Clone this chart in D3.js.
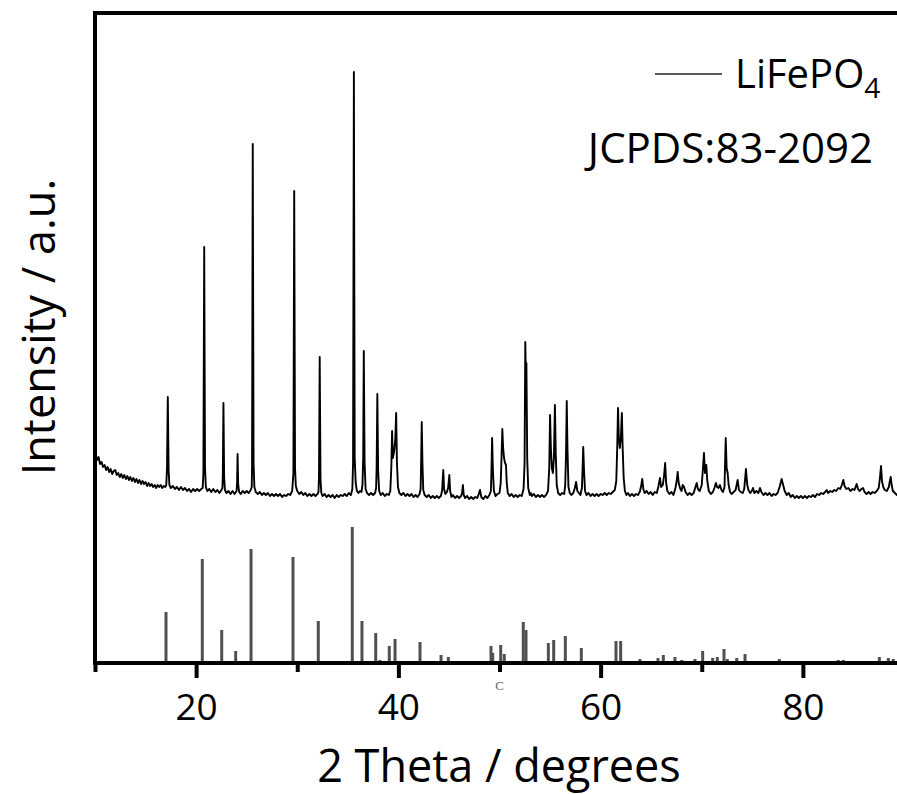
<!DOCTYPE html>
<html><head><meta charset="utf-8">
<script src="https://cdn.jsdelivr.net/npm/d3@7"></script>
<style>body{margin:0;background:#fff} svg{display:block}</style>
</head><body>
<svg id="c" width="897" height="794"></svg>
<script>
// ---- data ----
const xMajorTicks = [20, 40, 60, 80];
const xMinorTicks = [10, 30, 50, 70, 90];
const xLabel = "2 Theta / degrees";
const yLabel = "Intensity / a.u.";
const seriesName = "LiFePO";
const seriesSub = "4";
const refName = "JCPDS:83-2092";

// measured XRD pattern [2theta, intensity a.u.]
const measured = [
[10.0,200],[10.1,207],[10.2,203],[10.35,206],[10.5,199],[10.65,201],[10.8,196],[10.95,198],[11.1,193],[11.25,196],[11.4,191],[11.55,194],[11.7,189],[11.85,192],[12.0,193],[12.15,188],[12.3,190],[12.45,186],[12.6,189],[12.75,185],[12.9,188],[13.05,184],[13.2,187],[13.35,183],[13.5,186],[13.65,182],[13.8,185],[13.95,181],[14.1,184],[14.25,180],[14.4,183],[14.55,179],[14.7,182],[14.85,179],[15.0,181],[15.15,177],[15.3,180],[15.45,177],[15.6,179],[15.75,176],[15.9,178],[16.05,175],[16.2,178],[16.35,176],[16.5,178],[16.65,175],[16.8,177],[16.95,176],
[17.05,178],[17.12,195],[17.2,266],[17.28,192],[17.36,178],
[17.5,175],[17.7,177],[17.9,174],[18.1,176],[18.3,173],[18.5,176],[18.7,173],[18.9,175],[19.1,172],[19.3,174],[19.5,171],[19.7,174],[19.9,172],[20.1,174],[20.3,172],[20.5,174],[20.65,175],
[20.72,190],[20.8,416],[20.88,195],[20.96,176],
[21.1,172],[21.3,174],[21.5,171],[21.7,174],[21.9,171],[22.1,173],[22.3,170],[22.5,173],[22.6,175],
[22.64,188],[22.7,260],[22.77,186],[22.85,173],
[23.0,170],[23.2,172],[23.4,169],[23.6,172],[23.8,169],[24.0,172],
[24.05,180],[24.1,209],[24.16,179],[24.25,171],
[24.4,169],[24.6,172],[24.8,170],[25.0,172],[25.2,170],[25.4,173],[25.5,176],
[25.53,195],[25.6,519],[25.68,200],[25.76,176],
[25.9,171],[26.1,169],[26.3,171],[26.5,168],[26.7,170],[26.9,168],[27.1,170],[27.3,167],[27.5,169],[27.7,167],[27.9,169],[28.1,167],[28.3,169],[28.5,166],[28.7,168],[28.9,167],[29.1,169],[29.3,168],[29.5,172],
[29.62,190],[29.7,472],[29.78,195],[29.86,177],
[30.0,172],[30.2,169],[30.4,171],[30.6,168],[30.8,170],[31.0,167],[31.2,169],[31.4,167],[31.6,169],[31.8,167],[32.0,169],[32.1,171],
[32.15,185],[32.22,306],[32.3,184],[32.38,170],
[32.5,167],[32.7,169],[32.9,166],[33.1,168],[33.3,166],[33.5,168],[33.7,165],[33.9,168],[34.1,166],[34.3,168],[34.5,167],[34.7,169],[34.9,167],[35.1,170],[35.3,168],[35.45,174],
[35.52,200],[35.6,591],[35.68,205],[35.78,180],
[35.9,172],[36.05,170],[36.2,172],[36.35,171],[36.45,178],
[36.52,205],[36.58,312],[36.66,200],[36.76,174],
[36.9,170],[37.1,168],[37.3,170],[37.5,168],[37.7,170],[37.8,175],
[37.85,195],[37.92,269],[38.0,192],[38.1,172],
[38.25,168],[38.45,170],[38.65,167],[38.85,169],[39.05,168],[39.2,172],
[39.3,195],[39.38,232],[39.45,205],[39.55,210],[39.62,215],[39.7,225],[39.78,250],[39.86,200],[39.96,176],
[40.1,170],[40.3,168],[40.5,170],[40.7,167],[40.9,169],[41.1,167],[41.3,169],[41.5,166],[41.7,168],[41.9,166],[42.1,169],[42.2,174],
[42.25,200],[42.31,241],[42.38,200],[42.46,173],
[42.6,168],[42.8,166],[43.0,168],[43.2,165],[43.4,167],[43.6,165],[43.8,167],[44.0,165],[44.2,167],[44.32,172],
[44.44,193],[44.52,174],[44.65,169],[44.8,171],[44.92,175],[45.04,188],[45.12,172],[45.25,166],[45.4,168],[45.6,165],[45.8,167],[46.0,165],[46.2,167],[46.3,170],[46.38,178],[46.46,168],[46.6,165],[46.8,167],[47.0,164],[47.2,166],[47.4,164],[47.6,166],[47.8,165],[47.95,169],[48.07,173],[48.2,166],[48.4,164],[48.6,167],[48.8,165],[49.0,168],[49.15,172],
[49.2,190],[49.27,225],[49.35,192],[49.45,172],
[49.6,167],[49.8,169],[50.0,170],[50.12,180],
[50.2,205],[50.28,234],[50.36,215],[50.45,205],[50.55,200],[50.64,198],[50.72,180],[50.82,170],
[51.0,167],[51.2,169],[51.4,166],[51.6,168],[51.8,166],[52.0,168],[52.2,167],[52.38,174],
[52.48,200],[52.55,321],[52.6,290],[52.66,300],[52.74,205],[52.84,175],
[53.0,168],[53.1,170],[53.2,167],[53.4,169],[53.6,166],[53.8,168],[54.0,166],[54.2,168],[54.4,166],[54.6,168],[54.8,172],
[54.92,195],[55.0,248],[55.08,215],[55.18,195],[55.28,190],[55.38,205],[55.48,258],[55.56,210],[55.66,178],
[55.8,170],[56.0,168],[56.2,170],[56.4,169],[56.5,178],
[56.58,210],[56.65,262],[56.72,215],[56.82,176],
[56.95,170],[57.1,168],[57.3,170],[57.45,175],[57.57,181],[57.7,172],[57.85,170],[58.0,168],[58.15,175],
[58.22,195],[58.28,216],[58.36,192],[58.46,172],
[58.6,168],[58.8,170],[59.0,167],[59.2,169],[59.4,167],[59.6,169],[59.8,167],[60.0,169],[60.2,168],[60.4,170],[60.6,168],[60.8,170],[61.0,169],[61.2,171],[61.4,173],[61.55,182],
[61.64,215],[61.72,255],[61.8,225],[61.9,215],[62.0,225],[62.1,250],[62.18,215],[62.28,185],[62.4,172],
[62.55,168],[62.7,170],[62.9,167],[63.1,169],[63.3,167],[63.5,169],[63.7,168],[63.9,172],
[64.02,178],[64.12,184],[64.22,174],[64.35,170],[64.55,172],[64.75,169],[64.95,171],[65.15,168],[65.35,171],[65.55,170],[65.7,176],[65.87,185],[65.98,176],[66.15,178],[66.28,188],[66.38,200],[66.48,180],[66.6,172],[66.8,169],[67.0,171],[67.2,168],[67.4,175],[67.52,182],[67.62,191],[67.72,180],[67.85,175],[68.0,172],[68.12,178],[68.25,176],[68.4,171],[68.6,168],[68.8,170],[69.0,168],[69.2,170],[69.35,175],[69.5,180],[69.62,174],[69.8,172],[70.0,178],[70.12,195],[70.22,210],[70.32,190],[70.45,198],[70.55,182],[70.7,172],[70.9,169],[71.1,171],[71.25,175],[71.4,180],[71.52,176],[71.66,175],[71.8,178],[71.95,173],[72.1,171],[72.25,176],[72.37,225],[72.46,195],[72.56,190],[72.66,178],[72.8,171],[72.95,169],[73.15,171],[73.35,173],[73.55,183],[73.68,173],[73.85,171],[74.05,170],[74.2,174],[74.37,194],[74.5,178],[74.62,173],[74.8,170],[74.95,172],[75.07,175],[75.2,170],[75.4,172],[75.6,170],[75.76,175],[75.9,171],[76.1,168],[76.3,170],[76.5,168],[76.7,170],[76.9,167],[77.1,169],[77.3,168],[77.5,170],[77.7,176],[77.9,184],[78.05,178],[78.2,172],[78.4,168],[78.6,170],[78.8,166],[79.0,168],[79.2,165],[79.4,167],[79.6,165],[79.8,167],[80.0,165],[80.2,167],[80.4,165],[80.6,167],[80.8,166],[81.0,168],[81.2,166],[81.4,169],[81.6,168],[81.8,170],[82.0,169],[82.2,171],[82.35,173],[82.5,170],[82.7,172],[82.9,171],[83.1,173],[83.3,172],[83.5,175],[83.7,174],[83.85,178],[84.0,183],[84.12,177],[84.3,174],[84.5,175],[84.7,172],[84.9,174],[85.1,173],[85.32,179],[85.45,174],[85.6,172],[85.8,174],[85.95,175],[86.1,171],[86.3,169],[86.5,171],[86.7,169],[86.9,171],[87.1,170],[87.3,172],[87.5,175],[87.62,185],[87.73,197],[87.82,182],[87.95,176],[88.1,173],[88.3,172],[88.5,176],[88.62,183],[88.69,186],[88.78,178],[88.9,172],[89.1,170],[89.3,168],[89.5,170],[89.7,168],[89.9,170]
];

// JCPDS 83-2092 reference lines [2theta, relative intensity a.u.]
const reference = [
[17.02,51],[20.61,104],[22.53,33],[23.91,12],[25.43,114],[29.58,106],[32.08,42],[34.4,2],[35.44,136],[36.4,42],[37.76,30],[38.18,3],[39.1,17],[39.67,24],[42.14,21],[44.22,8],[44.94,6],[46.19,2],[48.0,2],[49.16,17],[49.33,10],[50.12,18],[50.47,9],[52.35,41],[52.62,33],[53.08,2],[54.83,20],[55.36,23],[56.51,27],[57.4,2],[58.09,15],[59.25,1],[61.52,22],[61.98,22],[63.89,4],[65.67,5],[66.2,8],[67.35,6],[68.02,3],[69.33,4],[70.09,12],[71.08,5],[71.54,6],[72.2,14],[72.53,4],[73.46,5],[74.28,9],[75.17,2],[75.76,2],[77.67,4],[78.06,2],[80.5,1],[81.2,1],[81.99,2],[83.0,1],[83.5,3],[84.0,3],[84.66,2],[85.65,2],[86.3,1],[86.9,1],[87.56,6],[88.45,5],[88.94,4]
];

// ---- drawing ----
const FONT = "'Open Sans', 'Noto Sans', sans-serif";
const svg = d3.select("#c");
const x = d3.scaleLinear().domain([10, 90]).range([95, 904]);
const y = d3.scaleLinear().domain([0, 650]).range([663, 13]);

// reference sticks
svg.append("g").selectAll("line").data(reference).join("line")
  .attr("x1", d => x(d[0])).attr("x2", d => x(d[0]))
  .attr("y1", y(0)).attr("y2", d => y(d[1]))
  .attr("stroke", "#505050").attr("stroke-width", 3);

// measured pattern
svg.append("path").datum(measured)
  .attr("fill", "none").attr("stroke", "#000").attr("stroke-width", 1.9)
  .attr("stroke-linejoin", "round")
  .attr("d", d3.line().x(d => x(d[0])).y(d => y(d[1])));

// frame
svg.append("rect")
  .attr("x", x(10)).attr("y", y(650))
  .attr("width", x(90) - x(10)).attr("height", y(0) - y(650))
  .attr("fill", "none").attr("stroke", "#000").attr("stroke-width", 4);

// minor ticks
const gMinor = svg.append("g").attr("transform", `translate(0,${y(0)})`)
  .call(d3.axisBottom(x).tickValues(xMinorTicks).tickSize(9).tickFormat(""));
gMinor.select(".domain").remove();
gMinor.selectAll("line").attr("stroke", "#000").attr("stroke-width", 4);

// major ticks
const gMajor = svg.append("g").attr("transform", `translate(0,${y(0)})`)
  .call(d3.axisBottom(x).tickValues(xMajorTicks).tickSize(15).tickFormat(d3.format("d")));
gMajor.select(".domain").remove();
gMajor.selectAll("line").attr("stroke", "#000").attr("stroke-width", 4);
gMajor.selectAll("text").attr("y", 57).attr("dy", 0)
  .attr("font-family", FONT).attr("font-size", 37).attr("fill", "#000");

// axis titles
svg.append("text").attr("x", 499).attr("y", 782).attr("text-anchor", "middle")
  .attr("font-family", FONT).attr("font-size", 45).attr("fill", "#000").text(xLabel);
svg.append("text").attr("transform", "translate(55,327) rotate(-90)").attr("text-anchor", "middle")
  .attr("font-family", FONT).attr("font-size", 45).attr("fill", "#000").text(yLabel);

// legend
svg.append("line").attr("x1", 655).attr("x2", 722).attr("y1", 74).attr("y2", 74)
  .attr("stroke", "#222").attr("stroke-width", 1.3);
const lt = svg.append("text").attr("x", 735).attr("y", 88)
  .attr("font-family", FONT).attr("font-size", 40).attr("fill", "#000");
lt.append("tspan").text(seriesName);
lt.append("tspan").attr("font-size", 28).attr("dy", 10).text(seriesSub);
svg.append("text").attr("x", 873).attr("y", 163).attr("text-anchor", "end")
  .attr("font-family", FONT).attr("font-size", 42).attr("fill", "#000").text(refName);

// small artifact mark
svg.append("text").attr("x", x(50)).attr("y", 690).attr("text-anchor", "middle")
  .attr("font-family", "'Liberation Serif', serif").attr("font-size", 13).attr("fill", "#666").text("C");
</script>
</body></html>
